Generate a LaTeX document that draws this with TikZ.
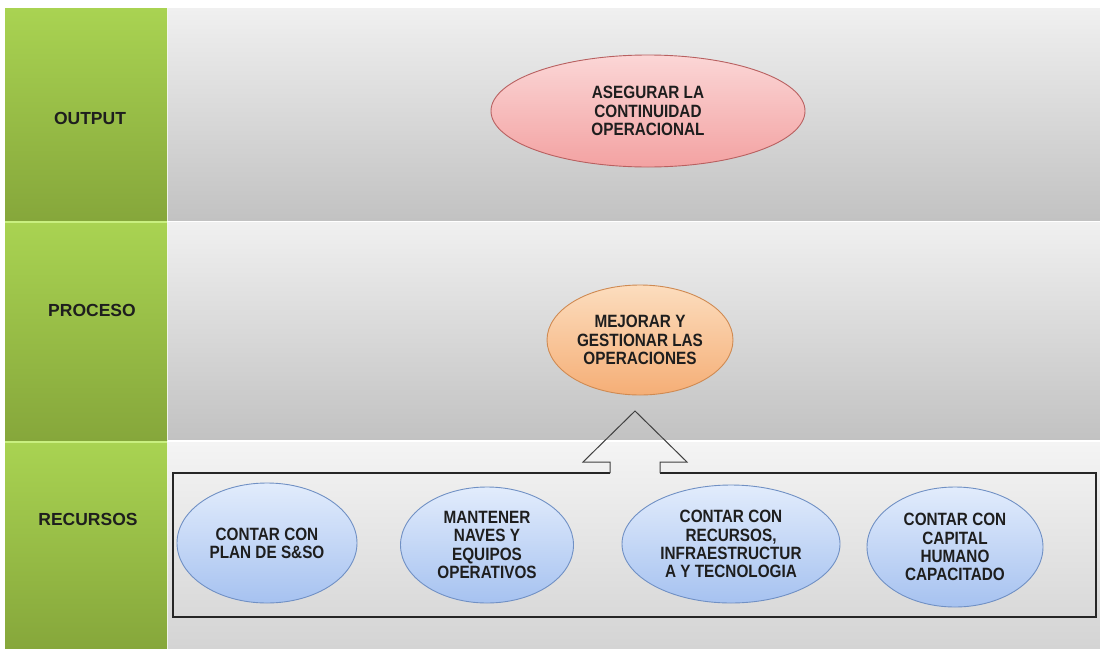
\documentclass[tikz,border=0pt]{standalone}
\usepackage{fontspec}
\setmainfont{Liberation Sans}
\newfontfamily\condfont[FakeStretch=0.86]{Liberation Sans}
\usetikzlibrary{shapes.geometric}
\definecolor{gtop}{HTML}{A9D352}
\definecolor{gbot}{HTML}{86A73B}
\definecolor{gline}{HTML}{C9EF80}
\definecolor{ptop}{HTML}{F0F0F0}
\definecolor{pbot}{HTML}{C2C2C2}
\definecolor{p3top}{HTML}{F4F4F4}
\definecolor{p3bot}{HTML}{D4D4D4}
\definecolor{redtop}{HTML}{FBD6D6}
\definecolor{redbot}{HTML}{F3A2A2}
\definecolor{redline}{HTML}{B86060}
\definecolor{ortop}{HTML}{FCDDBE}
\definecolor{orbot}{HTML}{F5AE76}
\definecolor{orline}{HTML}{CF8A52}
\definecolor{bltop}{HTML}{E2ECFC}
\definecolor{blbot}{HTML}{A6C2F0}
\definecolor{blline}{HTML}{7090C4}
\definecolor{txt}{HTML}{1E1E1E}
\begin{document}
\begin{tikzpicture}[x=1pt,y=-1pt,
  band/.style={rectangle, inner sep=0pt, top color=gtop, bottom color=gbot, draw=none},
  panel/.style={rectangle, inner sep=0pt, draw=none},
  rowlabel/.style={text=txt, font=\fontsize{17.5}{19}\selectfont\bfseries},
  oval/.style={ellipse, inner sep=0pt, align=center, line width=0.9pt, text=txt,
    font=\condfont\fontsize{17.8}{18.2}\selectfont\bfseries},
  redoval/.style={oval, draw=redline, top color=redtop, bottom color=redbot},
  oroval/.style={oval, draw=orline, top color=ortop, bottom color=orbot},
  bloval/.style={oval, draw=blline, top color=bltop, bottom color=blbot},
]
\useasboundingbox (0,0) rectangle (1100,648);
\fill[white] (0,0) rectangle (1100,648);
% gray panels
\node[panel, top color=ptop, bottom color=pbot, minimum width=932pt, minimum height=212pt] (p1) at (634,114) {};
\node[panel, top color=ptop, bottom color=pbot, minimum width=932pt, minimum height=217pt] (p2) at (634,331) {};
\node[panel, top color=p3top, bottom color=p3bot, minimum width=932pt, minimum height=206pt] (p3) at (634,545) {};
% green bands
\node[band, minimum width=162pt, minimum height=212pt] (b1) at (86,114) {};
\node[band, minimum width=162pt, minimum height=218pt] (b2) at (86,331) {};
\node[band, minimum width=162pt, minimum height=206pt] (b3) at (86,545) {};
\draw[gline, line width=2.2pt] (b2.north west) -- (b2.north east);
\draw[gline, line width=2.2pt] (b3.north west) -- (b3.north east);
% row labels
\node[rowlabel] (l1) at (90,118) {OUTPUT};
\node[rowlabel] (l2) at (92,310) {PROCESO};
\node[rowlabel] (l3) at (88,519) {RECURSOS};
% output and process
\node[redoval, minimum width=314pt, minimum height=112pt] (out) at (648,111) {ASEGURAR LA\\CONTINUIDAD\\OPERACIONAL};
\node[oroval, minimum width=186pt, minimum height=110pt] (proc) at (640,340) {MEJORAR Y\\GESTIONAR LAS\\OPERACIONES};
% resources box with block arrow
\draw[black!85, line width=1.1pt]
  (610,473) -- (173,473) -- (173,617) -- (1096,617) -- (1096,473) -- (660,473);
\draw[black!75, line width=1pt]
  (610,473) -- (610,462) -- (583,462) -- (635,411) -- (687,462) -- (660,462) -- (660,473);
% resources
\node[bloval, minimum width=180pt, minimum height=120pt] (r1) at (267,543) {CONTAR CON\\PLAN DE S\&SO};
\node[bloval, minimum width=173pt, minimum height=116pt] (r2) at (487,545) {MANTENER\\NAVES Y\\EQUIPOS\\OPERATIVOS};
\node[bloval, minimum width=218pt, minimum height=118pt] (r3) at (731,544) {CONTAR CON\\RECURSOS,\\INFRAESTRUCTUR\\A Y TECNOLOGIA};
\node[bloval, minimum width=176pt, minimum height=120pt] (r4) at (955,547) {CONTAR CON\\CAPITAL\\HUMANO\\CAPACITADO};
\end{tikzpicture}
\end{document}
